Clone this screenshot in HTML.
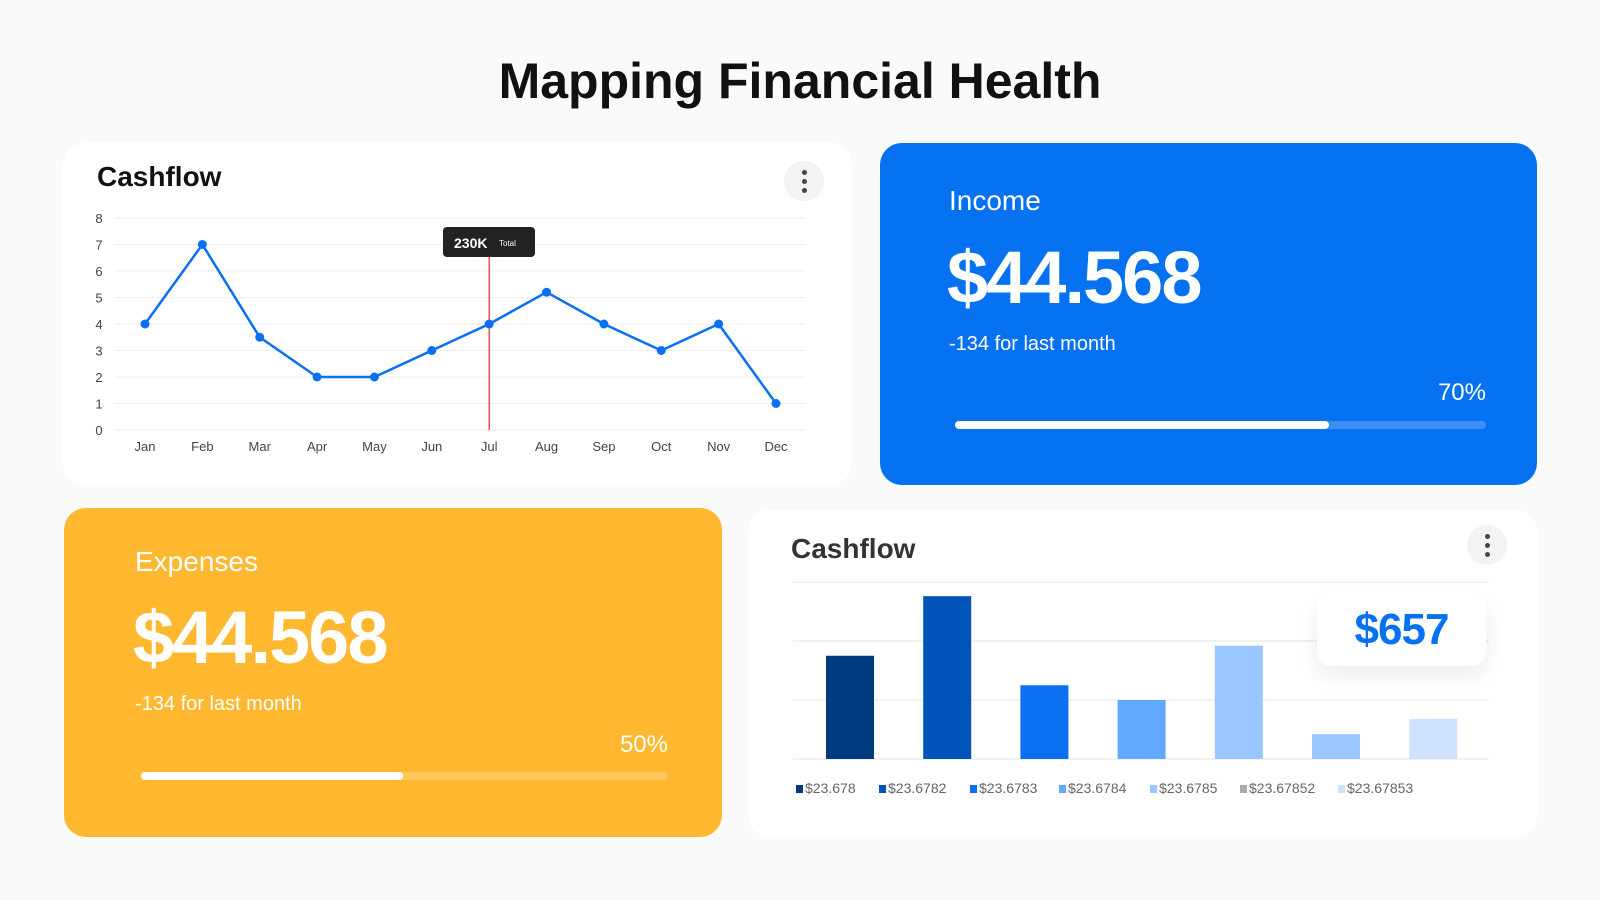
<!DOCTYPE html>
<html><head><meta charset="utf-8">
<style>
*{box-sizing:border-box;margin:0;padding:0}
body{width:1600px;height:900px;background:#fafafa;font-family:"Liberation Sans",sans-serif;position:relative;overflow:hidden}
.abs{position:absolute}
.card{position:absolute;border-radius:22px}
.kebab{position:absolute;width:40px;height:40px;border-radius:50%;background:#f3f3f3}
.kebab i{position:absolute;left:18px;width:5px;height:5px;border-radius:50%;background:#444}
.big{font-weight:bold;color:#fff;font-size:74px;letter-spacing:-2px;white-space:nowrap}
.light{color:#fff;white-space:nowrap}
</style></head>
<body>
<div class="abs" style="left:0;width:1600px;top:52px;text-align:center;font-size:50px;font-weight:bold;color:#111;">Mapping Financial Health</div>

<div class="card" style="left:63px;top:143px;width:789px;height:342px;background:#fff;"></div>
<div class="abs" style="left:97px;top:161px;font-size:28px;font-weight:bold;color:#111;">Cashflow</div>
<div class="kebab" style="left:784px;top:161px;"><i style="top:9px"></i><i style="top:18px"></i><i style="top:27px"></i></div>
<svg class="abs" style="left:0;top:0" width="1600" height="900" id="lsvg"></svg>

<div class="card" style="left:880px;top:143px;width:657px;height:342px;background:#0672f2;"></div>
<div class="abs light" style="left:949px;top:185px;font-size:28px;">Income</div>
<div class="abs big" style="left:947px;top:235px;">$44.568</div>
<div class="abs light" style="left:949px;top:333px;font-size:20px;">-134 for last month</div>
<div class="abs light" style="right:114px;top:379px;font-size:24px;">70%</div>
<div class="abs" style="left:955px;top:421px;width:531px;height:8px;border-radius:4px;background:#3a8ef5;"></div>
<div class="abs" style="left:955px;top:421px;width:374px;height:8px;border-radius:4px;background:#fff;"></div>

<div class="card" style="left:64px;top:508px;width:658px;height:329px;background:#ffb830;"></div>
<div class="abs light" style="left:135px;top:546px;font-size:28px;">Expenses</div>
<div class="abs big" style="left:133px;top:595px;">$44.568</div>
<div class="abs light" style="left:135px;top:693px;font-size:20px;">-134 for last month</div>
<div class="abs light" style="left:598px;top:731px;width:70px;text-align:right;font-size:24px;">50%</div>
<div class="abs" style="left:141px;top:772px;width:527px;height:8px;border-radius:4px;background:#ffc75a;"></div>
<div class="abs" style="left:141px;top:772px;width:262px;height:8px;border-radius:4px;background:#fff;"></div>

<div class="card" style="left:748px;top:510px;width:789px;height:327px;background:#fff;"></div>
<div class="abs" style="left:791px;top:533px;font-size:28px;font-weight:bold;color:#333;">Cashflow</div>
<div class="kebab" style="left:1467px;top:525px;"><i style="top:9px"></i><i style="top:18px"></i><i style="top:27px"></i></div>
<svg class="abs" style="left:0;top:0" width="1600" height="900" id="bsvg"></svg>
<div class="abs" style="left:1317px;top:593px;width:169px;height:73px;background:#fff;border-radius:14px;box-shadow:0 10px 24px rgba(0,0,0,0.08);text-align:center;font-size:44px;font-weight:bold;color:#0672f2;line-height:73px;letter-spacing:-1px;">$657</div>
<div class="abs" id="legend" style="left:0;top:780px;"></div>

<script>
const months=["Jan","Feb","Mar","Apr","May","Jun","Jul","Aug","Sep","Oct","Nov","Dec"];
const cashValues=[4,7,3.5,2,2,3,4,5.2,4,3,4,1];
const yTicks=[0,1,2,3,4,5,6,7,8];
const barValues=[1.75,2.76,1.25,1.0,1.92,0.42,0.68];
const barLabels=["$23.678","$23.6782","$23.6783","$23.6784","$23.6785","$23.67852","$23.67853"];
const barColors=["#003a80","#0054b8","#0a6ff0","#63a8ff","#99c6ff","#99c6ff","#cce2ff"];
const legendColors=["#003a80","#0054b8","#0a6ff0","#63a8ff","#99c6ff","#aaaaaa","#cce2ff"];
const NS="http://www.w3.org/2000/svg";
function mk(p,t,a){const e=document.createElementNS(NS,t);for(const k in a)e.setAttribute(k,a[k]);p.appendChild(e);return e;}
// line chart
const L=document.getElementById('lsvg');
const lx=i=>145+i*(776-145)/(months.length-1);
const ly=v=>430-v*(430-218)/8;
yTicks.forEach(t=>{
  const g=mk(L,'line',{x1:115,x2:805,y1:ly(t),y2:ly(t),stroke:'#eeeeee','stroke-width':1});
  
  const tx=mk(L,'text',{x:99,y:ly(t)+5,'text-anchor':'middle','font-size':13,fill:'#444','font-family':'Liberation Sans'});
  tx.textContent=t;
});
months.forEach((m,i)=>{
  const tx=mk(L,'text',{x:lx(i),y:451,'text-anchor':'middle','font-size':13,fill:'#444','font-family':'Liberation Sans'});
  tx.textContent=m;
});
const rl=mk(L,'line',{x1:lx(6),x2:lx(6),y1:250,y2:430,stroke:'#e00000','stroke-width':1});

const pl=mk(L,'polyline',{points:cashValues.map((v,i)=>lx(i)+','+ly(v)).join(' '),fill:'none',stroke:'#0a6ff0','stroke-width':2.5,'stroke-linejoin':'round'});

cashValues.forEach((v,i)=>{
  const c=mk(L,'circle',{cx:lx(i),cy:ly(v),r:4.5,fill:'#0a6ff0'});
  
});
const tb=mk(L,'rect',{x:443,y:227,width:92,height:30,rx:4,fill:'#222'});

const t1=mk(L,'text',{x:454,y:248,'font-size':14,'font-weight':'bold',fill:'#fff','font-family':'Liberation Sans'});
t1.textContent='230K';
const t2=mk(L,'text',{x:499,y:246,'font-size':8,fill:'#fff','font-family':'Liberation Sans'});
t2.textContent='Total';
// bar chart
const B=document.getElementById('bsvg');
const by=v=>759-v*(759-582)/3;
[0,1,2,3].forEach(t=>{
  const g=mk(B,'line',{x1:793,x2:1489,y1:by(t),y2:by(t),stroke:'#eeeeee','stroke-width':1.5});
  
});
const bx=i=>826+i*97.2;
barValues.forEach((v,i)=>{
  const r=mk(B,'rect',{x:bx(i),y:by(v),width:48,height:759-by(v),fill:barColors[i]});
  
});
const lg=document.getElementById('legend');
const lxs=[796,879,970,1059,1150,1240,1338];
barLabels.forEach((s,i)=>{
  const d=document.createElement('div');
  
  
  d.style.cssText='position:absolute;top:0;left:'+lxs[i]+'px;white-space:nowrap;font-size:14px;color:#666;';
  d.innerHTML='<span style="display:inline-block;width:7px;height:8px;background:'+legendColors[i]+';margin-right:2px"></span>'+s;
  lg.appendChild(d);
});
</script>
</body></html>
